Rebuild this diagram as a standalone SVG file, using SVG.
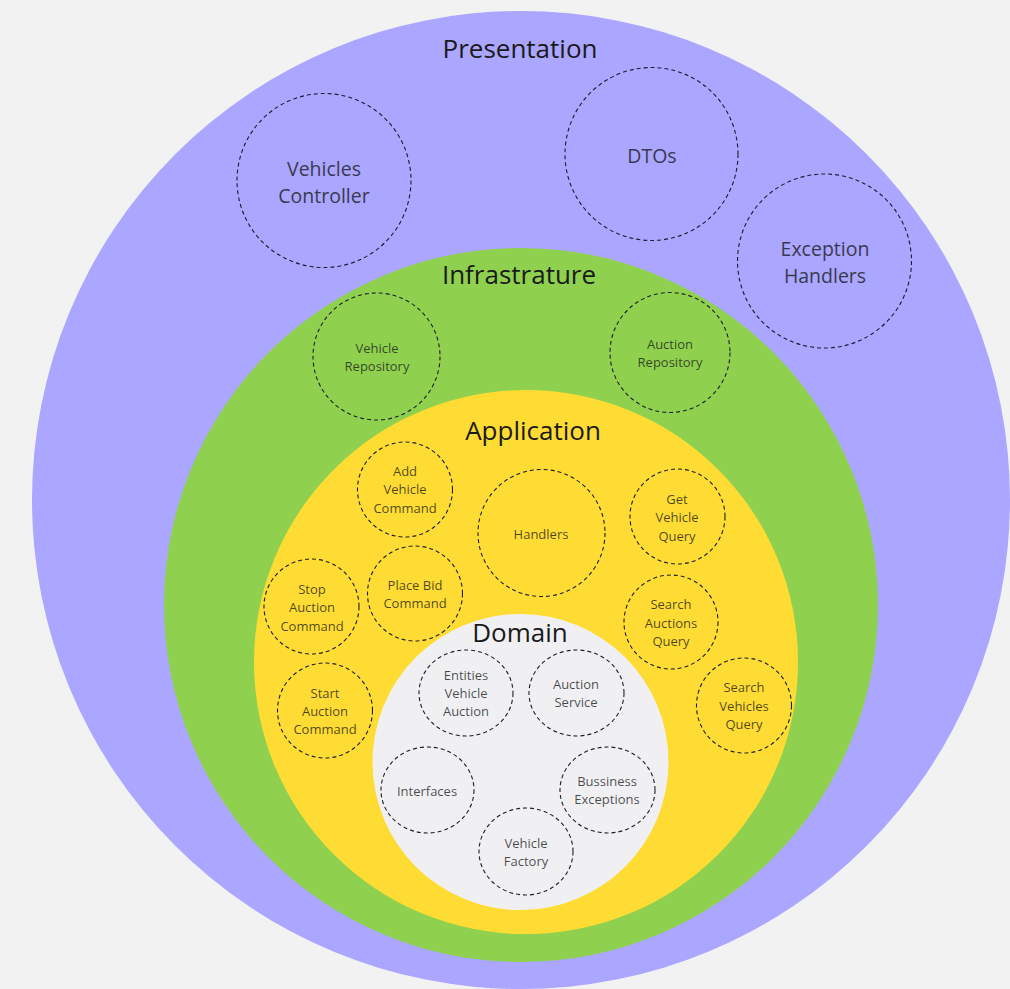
<svg xmlns="http://www.w3.org/2000/svg" width="1010" height="989" viewBox="0 0 1010 989">
<style>
.layer-title{font-family:"Open Sans","Noto Sans",sans-serif;font-size:26px;fill:#1a1a1a;text-anchor:middle;dominant-baseline:central}
.big{font-family:"Open Sans","Noto Sans",sans-serif;font-size:19.5px;fill:#3a3a4e;text-anchor:middle;dominant-baseline:central}
.small{font-family:"Open Sans","Noto Sans",sans-serif;font-size:13px;fill:#1a1a1a;fill-opacity:0.78;text-anchor:middle;dominant-baseline:central}
.dash{fill:none;stroke:#1e1e2a;stroke-width:1.1;stroke-dasharray:4 3}
</style>
<rect width="1010" height="989" fill="#f2f2f2"/>
<g id="presentation">
<circle cx="521" cy="500" r="489" fill="#aba6ff"/>
<text class="layer-title" x="520" y="48">Presentation</text>
</g>
<g id="vehicles-controller">
<circle class="dash" cx="324" cy="180.5" r="87"/>
<text class="big" x="324" y="168">Vehicles</text>
<text class="big" x="324" y="195">Controller</text>
</g>
<g id="dtos">
<circle class="dash" cx="651.5" cy="154" r="86.5"/>
<text class="big" x="652" y="155">DTOs</text>
</g>
<g id="exception-handlers">
<circle class="dash" cx="824.5" cy="261" r="87"/>
<text class="big" x="825" y="248">Exception</text>
<text class="big" x="825" y="275">Handlers</text>
</g>
<g id="infrastructure">
<circle cx="521" cy="605" r="357" fill="#8fd14f"/>
<text class="layer-title" x="519" y="274">Infrastrature</text>
</g>
<g id="vehicle-repository">
<circle class="dash" cx="376.5" cy="356.5" r="63.5"/>
<text class="small" x="377" y="348">Vehicle</text>
<text class="small" x="377" y="366">Repository</text>
</g>
<g id="auction-repository">
<circle class="dash" cx="670" cy="352.5" r="60"/>
<text class="small" x="670" y="344">Auction</text>
<text class="small" x="670" y="362">Repository</text>
</g>
<g id="application">
<circle cx="526" cy="662" r="272" fill="#ffdc33"/>
<text class="layer-title" x="533" y="430">Application</text>
</g>
<g id="add-vehicle-command">
<circle class="dash" cx="405" cy="489.5" r="47.5"/>
<text class="small" x="405" y="471">Add</text>
<text class="small" x="405" y="489">Vehicle</text>
<text class="small" x="405" y="508">Command</text>
</g>
<g id="handlers">
<circle class="dash" cx="541.5" cy="533" r="63.5"/>
<text class="small" x="541" y="534">Handlers</text>
</g>
<g id="get-vehicle-query">
<circle class="dash" cx="677.5" cy="516.5" r="47.5"/>
<text class="small" x="677" y="499">Get</text>
<text class="small" x="677" y="517">Vehicle</text>
<text class="small" x="677" y="536">Query</text>
</g>
<g id="place-bid-command">
<circle class="dash" cx="415" cy="593.5" r="47.5"/>
<text class="small" x="415" y="585">Place Bid</text>
<text class="small" x="415" y="603">Command</text>
</g>
<g id="stop-auction-command">
<circle class="dash" cx="311.5" cy="606.5" r="47.5"/>
<text class="small" x="312" y="589">Stop</text>
<text class="small" x="312" y="607">Auction</text>
<text class="small" x="312" y="626">Command</text>
</g>
<g id="search-auctions-query">
<circle class="dash" cx="671" cy="622" r="47"/>
<text class="small" x="671" y="604">Search</text>
<text class="small" x="671" y="623">Auctions</text>
<text class="small" x="671" y="641">Query</text>
</g>
<g id="start-auction-command">
<circle class="dash" cx="325" cy="710.5" r="47.5"/>
<text class="small" x="325" y="693">Start</text>
<text class="small" x="325" y="711">Auction</text>
<text class="small" x="325" y="729">Command</text>
</g>
<g id="search-vehicles-query">
<circle class="dash" cx="744" cy="705.5" r="47.5"/>
<text class="small" x="744" y="687">Search</text>
<text class="small" x="744" y="706">Vehicles</text>
<text class="small" x="744" y="724">Query</text>
</g>
<g id="domain">
<circle cx="520.5" cy="762" r="148" fill="#f0f0f3"/>
<text class="layer-title" x="520" y="632">Domain</text>
</g>
<g id="entities">
<ellipse class="dash" cx="466" cy="693" rx="47" ry="43"/>
<text class="small" x="466" y="675">Entities</text>
<text class="small" x="466" y="693">Vehicle</text>
<text class="small" x="466" y="711">Auction</text>
</g>
<g id="auction-service">
<ellipse class="dash" cx="576.5" cy="693" rx="47.5" ry="43"/>
<text class="small" x="576" y="684">Auction</text>
<text class="small" x="576" y="702">Service</text>
</g>
<g id="interfaces">
<ellipse class="dash" cx="427.5" cy="790" rx="46.5" ry="43"/>
<text class="small" x="427" y="791">Interfaces</text>
</g>
<g id="bussiness-exceptions">
<ellipse class="dash" cx="607.5" cy="790" rx="47.5" ry="43"/>
<text class="small" x="607" y="781">Bussiness</text>
<text class="small" x="607" y="799">Exceptions</text>
</g>
<g id="vehicle-factory">
<ellipse class="dash" cx="526" cy="851.5" rx="47" ry="43.5"/>
<text class="small" x="526" y="843">Vehicle</text>
<text class="small" x="526" y="861">Factory</text>
</g>
<g id="connectors"></g>
</svg>
